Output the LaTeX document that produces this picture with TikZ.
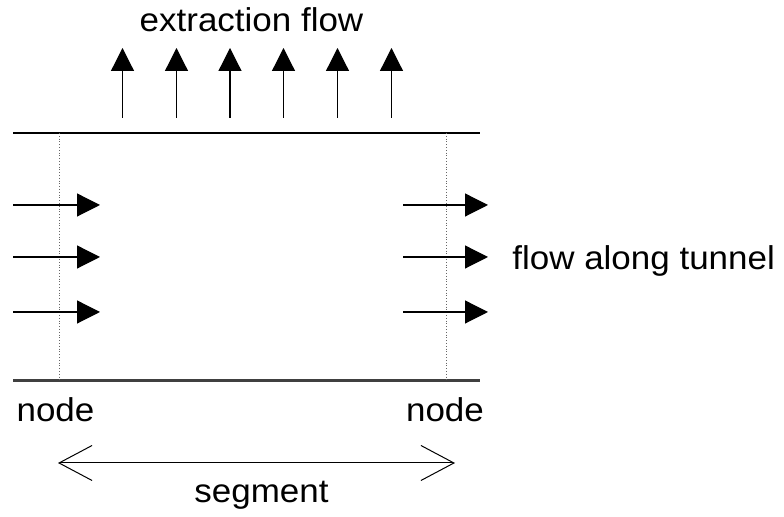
\documentclass[tikz,border=0pt]{standalone}
\usepackage{fontspec}
\setmainfont[FakeStretch=1.06]{Liberation Sans}
\usetikzlibrary{positioning,arrows.meta}

\begin{document}
\begin{tikzpicture}[x=0.5pt, y=-0.5pt, font=\fontsize{16.5}{19}\selectfont,
    flow/.style={line width=0.6pt, -{Triangle[length=11.5pt,width=11.5pt]}},
    nodeline/.style={densely dotted, line width=0.4pt, black!60}]
    \useasboundingbox (0,0) rectangle (784,517);

    % tunnel walls and the two nodes
    \draw [line width=1pt] (13,133) -- (480,133);
    \draw [line width=1.5pt, black!75] (13,381) -- (480,381);
    \draw [nodeline] (59,133) -- (59,381);
    \draw [nodeline] (446,133) -- (446,381);

    % extraction
    \foreach \x [count=\i] in {122.5,176.5,230,283.5,337.5,391.5} {
        \coordinate (up\i) at (\x,118);
        \coordinate (top\i) at (\x,48);
        \draw [flow] (up\i) -- (top\i);
    }
    \node (extract) [anchor=base] at (251.5,32) {extraction flow};

    % flow along tunnel
    \foreach \y [count=\i] in {205,257,312} {
        \coordinate (inl\i) at (13,\y);
        \coordinate (inr\i) at (100,\y);
        \coordinate (outl\i) at (403,\y);
        \coordinate (outr\i) at (488,\y);
        \draw [flow] (inl\i) -- (inr\i);
        \draw [flow] (outl\i) -- (outr\i);
    }
    \node (along) [anchor=base west, inner xsep=0pt] at (512,270) {flow along tunnel};

    \node (nodeleft) [anchor=base] at (55.5,422) {node};
    \node (noderight) [anchor=base] at (445,422) {node};

    % segment
    \coordinate (segl) at (58,463);
    \coordinate (segr) at (455,463);
    \draw [line width=0.5pt, {Straight Barb[length=16.5pt,width=17.5pt]}-{Straight Barb[length=16.5pt,width=17.5pt]}] (segl) -- (segr);
    \node (segment) [anchor=base] at (261.5,503) {segment};
\end{tikzpicture}
\end{document}
